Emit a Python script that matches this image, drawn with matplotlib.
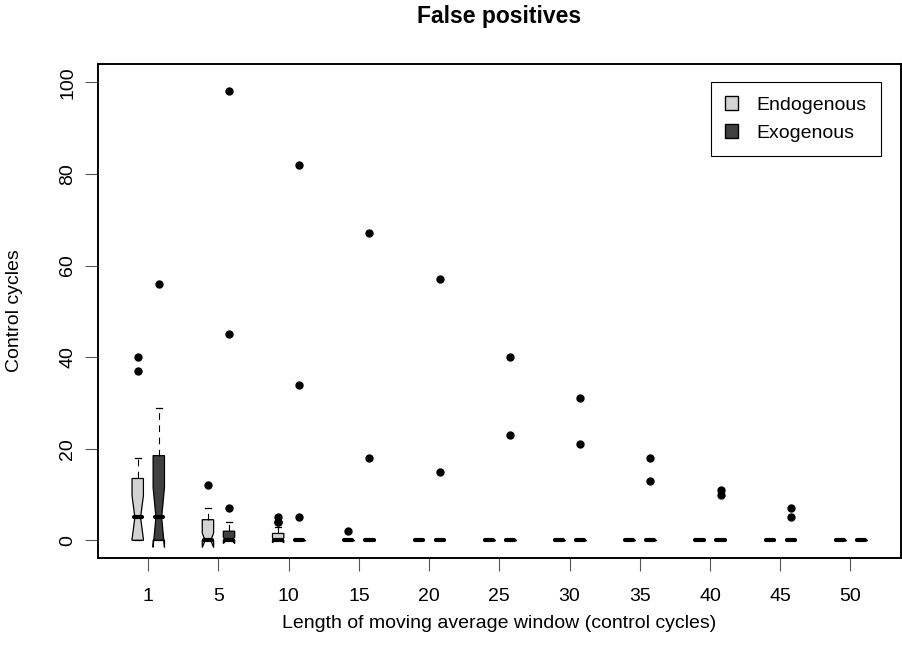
import numpy as np
import matplotlib
matplotlib.use("Agg")
import matplotlib.pyplot as plt
from matplotlib.patches import Patch

plt.rcParams['font.family'] = ['Liberation Sans', 'DejaVu Sans']

# window lengths (one group per window)
windows = [1, 5, 10, 15, 20, 25, 30, 35, 40, 45, 50]
n_runs = 20

# Endogenous summary statistics
endo_q1 = [0, 0, 0, 0, 0, 0, 0, 0, 0, 0, 0]
endo_med = [5, 0, 0, 0, 0, 0, 0, 0, 0, 0, 0]
endo_q3 = [13.5, 4.5, 1.5, 0, 0, 0, 0, 0, 0, 0, 0]
endo_lo = [0, 0, 0, 0, 0, 0, 0, 0, 0, 0, 0]
endo_hi = [18, 7, 3, 0, 0, 0, 0, 0, 0, 0, 0]
endo_out = [[37, 40], [12], [4, 4, 5], [2], [], [], [], [], [], [], []]

# Exogenous summary statistics
exo_q1 = [0, 0, 0, 0, 0, 0, 0, 0, 0, 0, 0]
exo_med = [5, 0, 0, 0, 0, 0, 0, 0, 0, 0, 0]
exo_q3 = [18.5, 2, 0, 0, 0, 0, 0, 0, 0, 0, 0]
exo_lo = [0, 0, 0, 0, 0, 0, 0, 0, 0, 0, 0]
exo_hi = [29, 4, 0, 0, 0, 0, 0, 0, 0, 0, 0]
exo_out = [[56], [7, 45, 98], [5, 34, 82], [18, 67], [15, 57], [23, 40],
           [21, 31], [13, 18], [10, 11], [5, 7], []]

endo_col = "#d3d3d3"
exo_col = "#404040"


def make_stats(q1, med, q3, lo, hi, out):
    st = []
    for i in range(len(med)):
        half = 1.58 * (q3[i] - q1[i]) / np.sqrt(n_runs)
        st.append(dict(q1=q1[i], med=med[i], q3=q3[i], whislo=lo[i], whishi=hi[i],
                       fliers=out[i], cilo=med[i] - half, cihi=med[i] + half))
    return st


fig = plt.figure(figsize=(9.03, 6.58), dpi=100)
ax = fig.add_axes([97.7 / 903, 1 - 558 / 658, (901 - 97.7) / 903, (558 - 64) / 658])

pos = np.arange(1, len(windows) + 1)
bw = 0.162
off = 0.15

for stats, p, col in [(make_stats(endo_q1, endo_med, endo_q3, endo_lo, endo_hi, endo_out), pos - off, endo_col),
                      (make_stats(exo_q1, exo_med, exo_q3, exo_lo, exo_hi, exo_out), pos + off, exo_col)]:
    res = ax.bxp(stats, positions=p, widths=bw, shownotches=True, patch_artist=True,
                 boxprops=dict(facecolor=col, edgecolor="black", linewidth=0.9),
                 whiskerprops=dict(linestyle=(0, (6, 5)), color="black", linewidth=0.8),
                 capprops=dict(color="black", linewidth=0.9),
                 medianprops=dict(color="black", linewidth=3, solid_capstyle="round"),
                 flierprops=dict(marker="o", markerfacecolor="black", markeredgecolor="black",
                                 markersize=5, linestyle="none"),
                 manage_ticks=False)
    for m, x in zip(res['medians'], p):
        m.set_xdata([x - bw * 0.36, x + bw * 0.36])

ax.set_xlim(0.28, 11.72)
ax.set_ylim(-3.86, 104)
ax.set_xticks(pos)
ax.set_xticklabels([str(w) for w in windows])
ax.set_yticks([0, 20, 40, 60, 80, 100])
ax.tick_params(axis='both', labelsize=14, length=9.4, width=0.8, color="#555555")
ax.tick_params(axis='x', pad=12)
ax.tick_params(axis='y', pad=6)
for t in ax.get_yticklabels():
    t.set_rotation(90)
    t.set_va('center')
for s in ax.spines.values():
    s.set_linewidth(1.4)

handles = [Patch(facecolor=endo_col, edgecolor="black", label="Endogenous"),
           Patch(facecolor=exo_col, edgecolor="black", label="Exogenous")]
leg = ax.legend(handles=handles, loc="upper right", bbox_to_anchor=(881 / 903, 1 - 82 / 658),
                bbox_transform=fig.transFigure, fontsize=14, fancybox=False, framealpha=1,
                edgecolor="black", handlelength=0.7, handleheight=0.7, handletextpad=0.95,
                borderpad=0.72, labelspacing=0.55, borderaxespad=0)
leg.get_frame().set_linewidth(0.8)

fig.text(499 / 903, 1 - 17 / 658, "False positives", ha="center", va="center",
         fontsize=16.5, fontweight="bold")
fig.text(499 / 903, 1 - 624 / 658, "Length of moving average window (control cycles)",
         ha="center", va="center", fontsize=14)
fig.text(15 / 903, 1 - 311 / 658, "Control cycles", ha="center", va="center",
         fontsize=14, rotation=90)

fig.savefig("out.png", dpi=100)
